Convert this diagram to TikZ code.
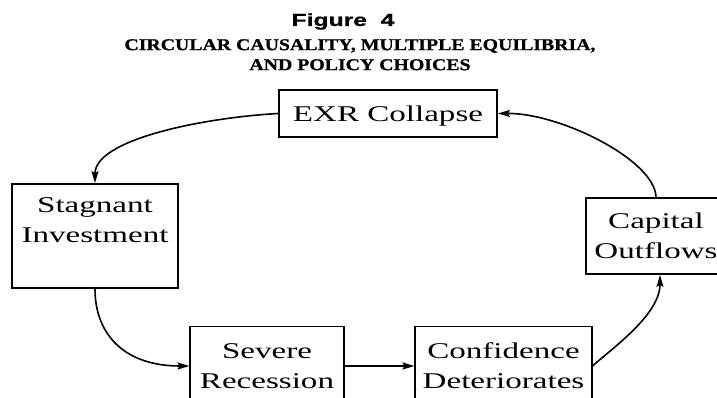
\documentclass[tikz,border=0pt]{standalone}
\usepackage{fontspec}
\usetikzlibrary{positioning,arrows.meta}
\setmainfont{Liberation Serif}
\newfontfamily\boxfont[FakeStretch=1.47]{Liberation Serif}
\newfontfamily\titlefont[FakeStretch=1.2,FakeBold=1]{Liberation Serif}
\newfontfamily\headfont[FakeStretch=1.41,FakeBold=0.8]{Liberation Sans}
\tikzset{
  box/.style={draw=black, line width=1.8pt, inner sep=0pt, align=center,
    font=\boxfont\fontsize{22.5}{30}\selectfont},
  thinbox/.style={box, line width=1.1pt},
  boxtext/.style={inner sep=0pt, align=center, font=\boxfont\fontsize{22.5}{30}\selectfont},
  link/.style={black, line width=1.6pt, -{Stealth[length=12pt,width=7pt,inset=2pt]}}
}
\begin{document}
\begin{tikzpicture}[x=1pt, y=-1pt]
    \useasboundingbox (0,0) rectangle (717,398);

    \node[anchor=base, font=\headfont\bfseries\fontsize{17.5}{20}\selectfont] (fig) at (343,26) {Figure~~4};
    \node[anchor=north, inner sep=0pt, align=center,
          font=\titlefont\bfseries\fontsize{16.5}{20}\selectfont] (title) at (360,39)
          {CIRCULAR CAUSALITY, MULTIPLE EQUILIBRIA,\\AND POLICY CHOICES};

    \node[box, minimum width=218pt, minimum height=47pt, text depth=0pt] (exr) at (388,113.5) {EXR Collapse};
    \node[box, minimum width=166pt, minimum height=104pt] (stagnant) at (95,236) {};
    \node[boxtext, below=14.5pt of stagnant.north] (stagnanttext) {Stagnant\\Investment};
    \node[box, minimum width=140pt, minimum height=76pt] (capital) at (656,236) {Capital\\Outflows};
    \node[thinbox, minimum width=154pt, minimum height=79pt] (severe) at (267,366) {Severe\\Recession};
    \node[thinbox, minimum width=177pt, minimum height=79pt] (confidence) at (503.5,366) {Confidence\\Deteriorates};

    \draw[link] (exr.west) .. controls (200,118) and (95,140) .. (stagnant.north);
    \draw[link] (stagnant.south) .. controls (95,335) and (125,366) .. (severe.west);
    \draw[link] (severe) -- (confidence);
    \draw[link] (confidence.east) .. controls (610,350) and (660,315) .. ([xshift=4pt]capital.south);
    \draw[link] (capital.north) .. controls (655,160) and (560,113) .. (exr.east);

\end{tikzpicture}
\end{document}
